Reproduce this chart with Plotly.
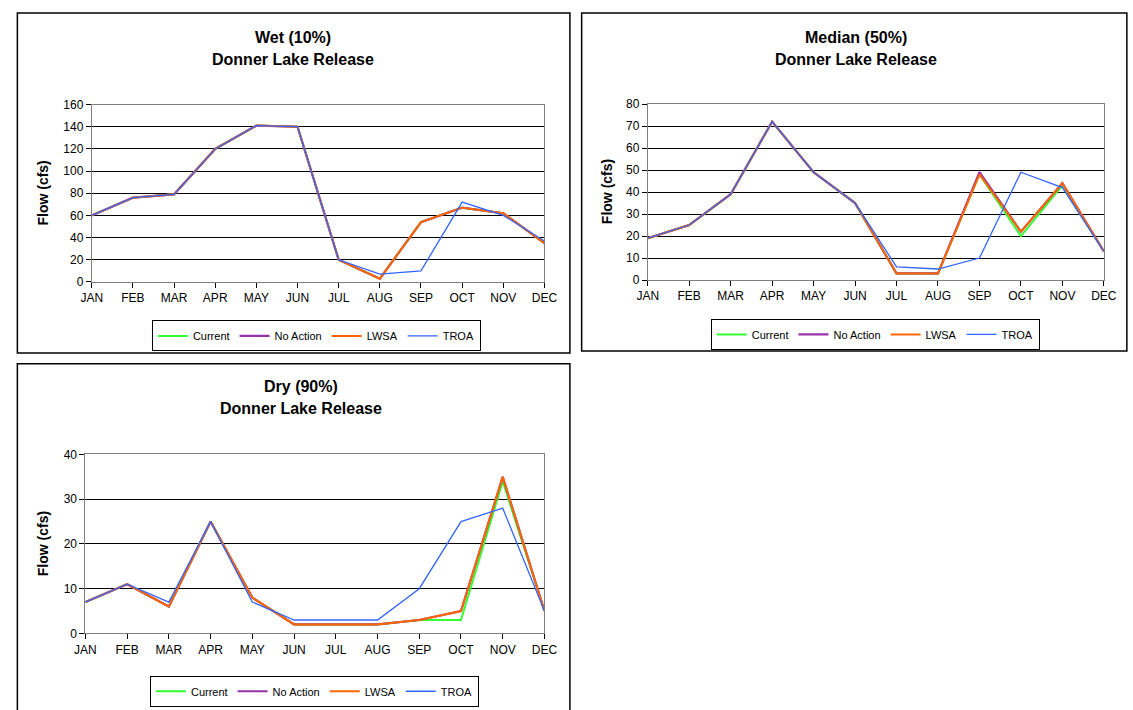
import plotly.graph_objects as go

months = ["JAN", "FEB", "MAR", "APR", "MAY", "JUN", "JUL", "AUG", "SEP", "OCT", "NOV", "DEC"]
series_names = ["Current", "No Action", "LWSA", "TROA"]

# Wet (10%)
wet_current = [60, 76, 79, 120, 141, 140, 20, 3, 54, 67, 62, 35]
wet_noaction = [60, 76, 79, 120, 141, 140, 20, 3, 54, 67, 62, 35]
wet_lwsa = [60, 76, 79, 120, 141, 140, 20, 3, 54, 67, 62, 35]
wet_troa = [60, 76, 79, 120, 141, 140, 20, 7, 10, 72, 60, 37]

# Median (50%)
med_current = [19, 25, 39, 72, 49, 35, 3, 3, 48, 20, 43, 13]
med_noaction = [19, 25, 39, 72, 49, 35, 3, 3, 49, 22, 44, 13]
med_lwsa = [19, 25, 39, 72, 49, 35, 3, 3, 48, 22, 44, 13]
med_troa = [19, 25, 39, 72, 49, 35, 6, 5, 10, 49, 42, 13]

# Dry (90%)
dry_current = [7, 11, 6, 25, 8, 2, 2, 2, 3, 3, 34, 5]
dry_noaction = [7, 11, 6, 25, 8, 2, 2, 2, 3, 5, 35, 5]
dry_lwsa = [7, 11, 6, 25, 8, 2, 2, 2, 3, 5, 35, 5]
dry_troa = [7, 11, 7, 25, 7, 3, 3, 3, 10, 25, 28, 5]

titles = ["Wet (10%)<br>Donner Lake Release",
          "Median (50%)<br>Donner Lake Release",
          "Dry (90%)<br>Donner Lake Release"]
y_ticks_wet = [0, 20, 40, 60, 80, 100, 120, 140, 160]
y_ticks_med = [0, 10, 20, 30, 40, 50, 60, 70, 80]
y_ticks_dry = [0, 10, 20, 30, 40]

colors = ["#33FF33", "#9933AA", "#FF6600", "#3366FF"]
widths = [2.0, 2.2, 2.0, 1.3]
W, H = 1133, 710
FONT = "Liberation Sans, Arial, sans-serif"

def px(x):
    return x / W

def py(y):
    return 1 - y / H

panels = [
    dict(data=[wet_current, wet_noaction, wet_lwsa, wet_troa], ticks=y_ticks_wet,
         dom_x=(82.5, 545), dom_y=(99.5, 280.5), frame=(6.5, 6, 571, 353),
         title_x=288, title_y=(31, 54), ylab_x=33, leg=(312, 335.5)),
    dict(data=[med_current, med_noaction, med_lwsa, med_troa], ticks=y_ticks_med,
         dom_x=(650.5, 1116.5), dom_y=(99, 278.5), frame=(583, 6, 1140, 351),
         title_x=863, title_y=(31, 54), ylab_x=609, leg=(883, 334)),
    dict(data=[dry_current, dry_noaction, dry_lwsa, dry_troa], ticks=y_ticks_dry,
         dom_x=(76, 545), dom_y=(456.5, 639), frame=(6.5, 364, 571, 720),
         title_x=296, title_y=(387, 410), ylab_x=33, leg=(310, 698)),
]

fig = go.Figure()
shapes = []
annotations = []
for i, p in enumerate(panels):
    sfx = "" if i == 0 else str(i + 1)
    leg = "legend" if i == 0 else "legend" + str(i + 1)
    for j, name in enumerate(series_names):
        fig.add_trace(go.Scatter(
            x=months, y=p["data"][j], mode="lines", name=name,
            line=dict(color=colors[j], width=widths[j]),
            xaxis="x" + sfx, yaxis="y" + sfx, legend=leg, showlegend=True,
        ))
    ymax = p["ticks"][-1]
    fig.update_layout(**{
        "xaxis" + sfx: dict(
            domain=[px(p["dom_x"][0]), px(p["dom_x"][1])], anchor="y" + sfx,
            type="category", categoryarray=months, range=[0, 11],
            showline=True, linecolor="#808080", linewidth=1, mirror=True,
            ticks="outside", ticklen=5, tickcolor="#000000", tickwidth=1,
            showgrid=False, zeroline=False,
            tickfont=dict(family=FONT, size=12, color="#000000"),
        ),
        "yaxis" + sfx: dict(
            domain=[py(p["dom_y"][1]), py(p["dom_y"][0])], anchor="x" + sfx,
            range=[0, ymax], tickvals=p["ticks"],
            showline=True, linecolor="#808080", linewidth=1, mirror=True,
            ticks="outside", ticklen=5, tickcolor="#000000", tickwidth=1,
            showgrid=True, gridcolor="#000000", gridwidth=1, zeroline=False,
            tickfont=dict(family=FONT, size=12, color="#000000"),
        ),
        leg: dict(
            x=px(p["leg"][0]), y=py(p["leg"][1]), xanchor="center", yanchor="middle",
            orientation="h", bgcolor="#FFFFFF", bordercolor="#000000", borderwidth=1,
            font=dict(family=FONT, size=11, color="#000000"),
            itemwidth=30, tracegroupgap=0, traceorder="normal",
        ),
    })
    f = p["frame"]
    shapes.append(dict(type="rect", xref="paper", yref="paper",
                       x0=px(f[0]), x1=px(f[2]), y0=py(f[3]), y1=py(f[1]),
                       line=dict(color="#000000", width=1.5), layer="below"))
    t1, t2 = titles[i].split("<br>")
    annotations.append(dict(text="<b>" + t1 + "</b>", x=px(p["title_x"]), y=py(p["title_y"][0]),
                            xref="paper", yref="paper", showarrow=False, xanchor="center", yanchor="middle",
                            font=dict(family=FONT, size=16, color="#000000")))
    annotations.append(dict(text="<b>" + t2 + "</b>", x=px(p["title_x"]), y=py(p["title_y"][1]),
                            xref="paper", yref="paper", showarrow=False, xanchor="center", yanchor="middle",
                            font=dict(family=FONT, size=16, color="#000000")))
    annotations.append(dict(text="<b>Flow (cfs)</b>", x=px(p["ylab_x"]),
                            y=py((p["dom_y"][0] + p["dom_y"][1]) / 2),
                            xref="paper", yref="paper", showarrow=False, textangle=-90,
                            xanchor="center", yanchor="middle",
                            font=dict(family=FONT, size=14, color="#000000")))

fig.update_layout(
    width=W, height=H, margin=dict(l=0, r=0, t=0, b=0),
    paper_bgcolor="#FFFFFF", plot_bgcolor="#FFFFFF",
    shapes=shapes, annotations=annotations,
    font=dict(family=FONT, color="#000000"),
)
fig.write_html("out.html", config={"displayModeBar": False},
               post_script="document.body.style.margin='0';document.body.style.overflow='hidden';")
